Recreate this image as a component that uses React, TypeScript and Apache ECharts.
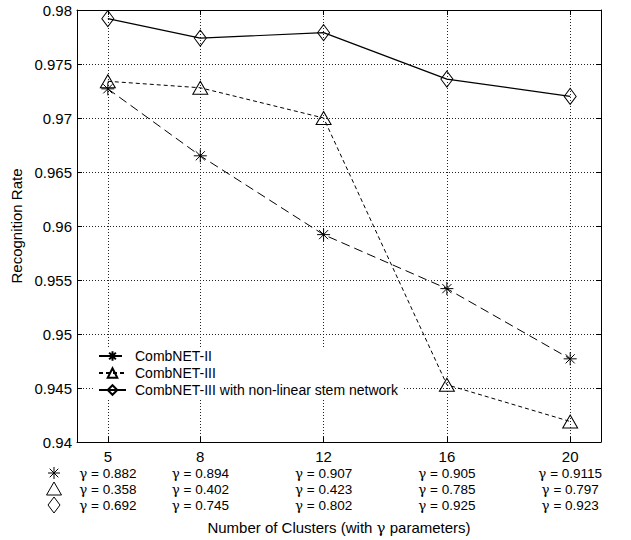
import React, { useEffect, useRef } from "react";
import * as echarts from "echarts";

const xTicks = [5, 8, 12, 16, 20];
const combNet2 = [0.9727, 0.9665, 0.9592, 0.9542, 0.9477];
const combNet3 = [0.9734, 0.9728, 0.97, 0.9453, 0.9419];
const combNet3NL = [0.9792, 0.9774, 0.9779, 0.9736, 0.972];
const gamma2 = ["0.882", "0.894", "0.907", "0.905", "0.9115"];
const gamma3 = ["0.358", "0.402", "0.423", "0.785", "0.797"];
const gamma3NL = ["0.692", "0.745", "0.802", "0.925", "0.923"];
const seriesNames = [
  "CombNET-II",
  "CombNET-III",
  "CombNET-III with non-linear stem network",
];
const yMin = 0.94;
const yMax = 0.98;
const yStep = 0.005;
const xMin = 4;
const xMax = 21;

const FONT = "Liberation Sans, Arial, Helvetica, sans-serif";
const SERIF = "DejaVu Serif, Liberation Serif, serif";
const ASTERISK =
  "path://M5,0L5,10M0,5L10,5M1.5,1.5L8.5,8.5M1.5,8.5L8.5,1.5";

export default function App() {
  const ref = useRef<HTMLDivElement>(null);
  useEffect(() => {
    if (!ref.current) return;
    const chart = echarts.init(ref.current, null, { renderer: "svg" });
    const toPairs = (arr: number[]) => arr.map((v, i) => [xTicks[i], v]);
    const markerStyle = {
      color: "transparent",
      borderColor: "#000",
      borderWidth: 1,
    };
    const grid = { left: 77, right: 30, top: 10, bottom: 98 };
    const gridLine = { show: true, lineStyle: { color: "#222", type: [1, 2] as any, width: 1 } };
    const symX = 54;
    const rowY = [473, 489, 505];
    const gLine = (v: string) => `{s|γ}{g| = ${v}}`;
    chart.setOption({
      animation: false,
      backgroundColor: "#fff",
      textStyle: { fontFamily: FONT, color: "#000" },
      grid,
      legend: {
        orient: "vertical",
        left: 94,
        top: 347,
        backgroundColor: "#fff",
        padding: [2, 6, 2, 4],
        itemWidth: 27,
        itemHeight: 12,
        itemGap: 3,
        textStyle: { fontSize: 14, color: "#000", fontFamily: FONT, lineHeight: 14, padding: [0, 0, 0, 4] },
        data: seriesNames,
      },
      xAxis: [
        {
          type: "value",
          min: xMin,
          max: xMax,
          position: "bottom",
          axisLine: { show: true, lineStyle: { color: "#000", width: 1 } },
          axisTick: { show: true, inside: true, length: 5, customValues: xTicks, lineStyle: { color: "#000" } },
          splitLine: gridLine,
          axisLabel: {
            customValues: xTicks,
            margin: 5,
            color: "#000",
            fontFamily: FONT,
            align: "center",
            formatter: (v: number) => {
              const i = xTicks.indexOf(v);
              if (i < 0) return "";
              return `{t|${v}}\n${gLine(gamma2[i])}\n${gLine(gamma3[i])}\n${gLine(gamma3NL[i])}`;
            },
            rich: {
              t: { fontSize: 15, lineHeight: 18, fontFamily: FONT, color: "#000", align: "center" },
              g: { fontSize: 13.5, lineHeight: 16, fontFamily: FONT, color: "#000", align: "center" },
              s: { fontSize: 13.5, lineHeight: 16, fontFamily: SERIF, color: "#000", align: "center" },
            },
          },
          name: "Number of Clusters (with {s|γ} parameters)",
          nameLocation: "middle",
          nameGap: 78,
          nameTextStyle: {
            fontSize: 15,
            color: "#000",
            fontFamily: FONT,
            rich: { s: { fontSize: 15, fontFamily: SERIF, color: "#000" } },
          },
        },
        {
          type: "value",
          min: xMin,
          max: xMax,
          position: "top",
          axisLine: { show: true, lineStyle: { color: "#000", width: 1 } },
          axisTick: { show: true, inside: true, length: 5, customValues: xTicks, lineStyle: { color: "#000" } },
          axisLabel: { show: false },
          splitLine: { show: false },
        },
      ],
      yAxis: [
        {
          type: "value",
          min: yMin,
          max: yMax,
          interval: yStep,
          position: "left",
          axisLine: { show: true, lineStyle: { color: "#000", width: 1 } },
          axisTick: { show: true, inside: true, length: 5, lineStyle: { color: "#000" } },
          splitLine: gridLine,
          axisLabel: {
            margin: 5,
            fontSize: 15,
            color: "#000",
            fontFamily: FONT,
            formatter: (v: number) => String(+v.toFixed(3)),
          },
          name: "Recognition Rate",
          nameLocation: "middle",
          nameGap: 52,
          nameTextStyle: { fontSize: 15, color: "#000", fontFamily: FONT },
        },
        {
          type: "value",
          min: yMin,
          max: yMax,
          interval: yStep,
          position: "right",
          axisLine: { show: true, lineStyle: { color: "#000", width: 1 } },
          axisTick: { show: true, inside: true, length: 5, lineStyle: { color: "#000" } },
          axisLabel: { show: false },
          splitLine: { show: false },
        },
      ],
      series: [
        {
          name: seriesNames[0],
          type: "line",
          data: toPairs(combNet2),
          symbol: ASTERISK,
          symbolSize: 13,
          itemStyle: markerStyle,
          lineStyle: { color: "#000", width: 1, type: [9, 5] as any },
          color: "#000",
        },
        {
          name: seriesNames[1],
          type: "line",
          data: toPairs(combNet3),
          symbol: "triangle",
          symbolSize: [15, 13],
          itemStyle: markerStyle,
          lineStyle: { color: "#000", width: 1, type: [4, 3] as any },
          color: "#000",
        },
        {
          name: seriesNames[2],
          type: "line",
          data: toPairs(combNet3NL),
          symbol: "diamond",
          symbolSize: [12, 16],
          itemStyle: markerStyle,
          lineStyle: { color: "#000", width: 1.2, type: "solid" },
          color: "#000",
        },
      ],
      graphic: [
        {
          type: "group",
          x: symX,
          y: rowY[0],
          children: [
            { type: "line", shape: { x1: 0, y1: -6, x2: 0, y2: 6 }, style: { stroke: "#000", lineWidth: 1 } },
            { type: "line", shape: { x1: -6, y1: 0, x2: 6, y2: 0 }, style: { stroke: "#000", lineWidth: 1 } },
            { type: "line", shape: { x1: -4.3, y1: -4.3, x2: 4.3, y2: 4.3 }, style: { stroke: "#000", lineWidth: 1 } },
            { type: "line", shape: { x1: -4.3, y1: 4.3, x2: 4.3, y2: -4.3 }, style: { stroke: "#000", lineWidth: 1 } },
          ],
        },
        {
          type: "polygon",
          x: symX,
          y: rowY[1],
          shape: { points: [[0, -7], [7.5, 6], [-7.5, 6]] },
          style: { fill: "none", stroke: "#000", lineWidth: 1 },
        },
        {
          type: "polygon",
          x: symX,
          y: rowY[2],
          shape: { points: [[0, -8], [6, 0], [0, 8], [-6, 0]] },
          style: { fill: "none", stroke: "#000", lineWidth: 1 },
        },
      ],
    });
    return () => chart.dispose();
  }, []);
  return (
    <div
      ref={ref}
      style={{ position: "fixed", left: 0, top: 0, width: 631, height: 540 }}
    />
  );
}
